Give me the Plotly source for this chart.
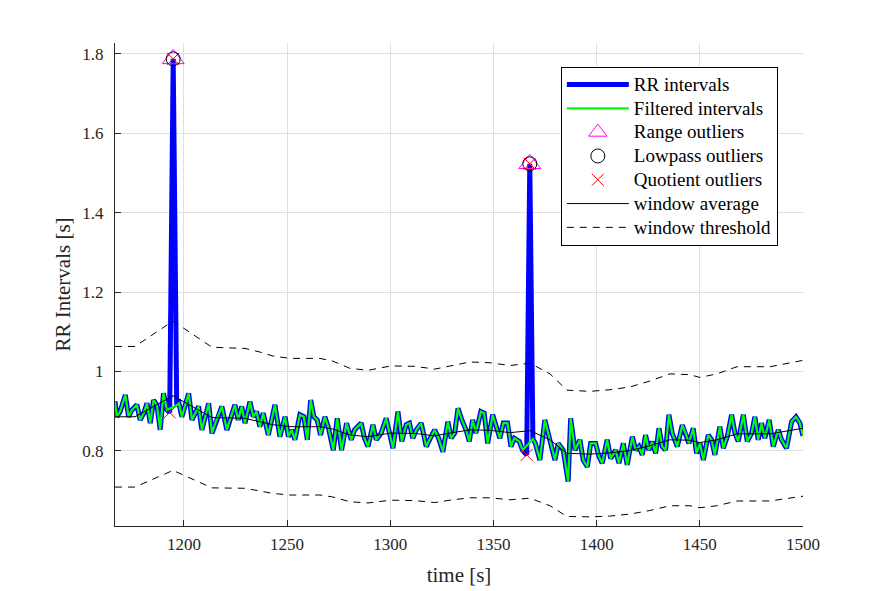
import plotly.graph_objects as go

# ---------------- data ----------------
rr_time = [1166.6, 1167.5, 1169.1, 1171.6, 1173.2, 1174.8, 1177.2, 1178.8, 1180.5, 1182.1,
           1183.7, 1185.3, 1186.9, 1188.5, 1190.1, 1191.8, 1193.1, 1194.8, 1196.5, 1197.6,
           1199.0, 1202.3, 1203.9, 1205.5, 1207.1, 1208.7, 1210.3, 1212.0, 1213.6, 1215.2,
           1218.4, 1220.8, 1222.3, 1224.7, 1226.3, 1228.0, 1229.6, 1232.0, 1233.6, 1235.2,
           1236.8, 1238.4, 1240.9, 1244.1, 1246.5, 1249.0, 1250.6, 1252.2, 1253.8, 1256.2,
           1258.1, 1259.8, 1261.4, 1263.0, 1264.6, 1266.2, 1268.3, 1269.9, 1272.4, 1274.3,
           1276.4, 1278.8, 1281.1, 1282.7, 1285.9, 1287.5, 1289.2, 1291.6, 1293.2, 1295.6,
           1298.0, 1299.7, 1301.3, 1303.7, 1305.6, 1307.7, 1309.3, 1310.9, 1312.6, 1315.0,
           1317.4, 1319.0, 1321.5, 1323.4, 1325.5, 1327.9, 1329.5, 1331.2, 1332.8, 1334.7,
           1336.7, 1338.3, 1339.9, 1341.5, 1343.9, 1345.5, 1347.2, 1349.6, 1351.5, 1353.1,
           1354.8, 1356.8, 1358.5, 1360.1, 1362.5, 1364.1, 1366.1, 1367.6, 1369.1, 1370.3,
           1372.5, 1374.9, 1377.3, 1379.8, 1381.4, 1383.8, 1386.2, 1387.4, 1389.5, 1391.9,
           1393.5, 1395.5, 1397.1, 1399.5, 1401.1, 1402.7, 1405.1, 1406.8, 1409.2, 1410.8,
           1412.9, 1414.8, 1417.3, 1418.9, 1420.5, 1422.1, 1423.7, 1425.3, 1426.9, 1428.6,
           1430.2, 1431.8, 1433.4, 1435.0, 1436.6, 1439.1, 1441.5, 1443.1, 1444.7, 1446.8,
           1448.4, 1450.1, 1451.7, 1454.1, 1455.7, 1457.3, 1459.7, 1461.4, 1463.3, 1465.4,
           1467.0, 1468.6, 1471.1, 1473.0, 1475.1, 1476.7, 1478.3, 1479.9, 1481.5, 1483.6,
           1485.6, 1488.0, 1489.6, 1492.0, 1494.5, 1496.6, 1498.5, 1500.0]
rr_value = [0.925, 0.886, 0.899, 0.941, 0.886, 0.903, 0.916, 0.878, 0.895, 0.920,
            0.870, 0.928, 0.916, 0.853, 0.945, 0.903, 0.897, 1.787, 0.915, 0.920,
            0.886, 0.945, 0.878, 0.895, 0.912, 0.853, 0.886, 0.920, 0.844, 0.870,
            0.912, 0.853, 0.878, 0.916, 0.878, 0.912, 0.870, 0.924, 0.886, 0.899,
            0.861, 0.895, 0.840, 0.916, 0.836, 0.886, 0.836, 0.853, 0.828, 0.891,
            0.886, 0.828, 0.928, 0.886, 0.878, 0.840, 0.886, 0.861, 0.802, 0.882,
            0.802, 0.870, 0.828, 0.853, 0.870, 0.832, 0.811, 0.866, 0.828, 0.845,
            0.882, 0.840, 0.807, 0.899, 0.824, 0.866, 0.870, 0.832, 0.853, 0.870,
            0.811, 0.828, 0.853, 0.832, 0.798, 0.874, 0.832, 0.845, 0.907, 0.878,
            0.853, 0.824, 0.878, 0.845, 0.899, 0.895, 0.819, 0.891, 0.861, 0.832,
            0.870, 0.870, 0.811, 0.832, 0.824, 0.802, 0.790, 1.523, 0.830, 0.819,
            0.777, 0.878, 0.828, 0.777, 0.819, 0.802, 0.723, 0.882, 0.802, 0.828,
            0.777, 0.760, 0.819, 0.819, 0.786, 0.769, 0.828, 0.781, 0.802, 0.769,
            0.819, 0.765, 0.836, 0.802, 0.811, 0.790, 0.840, 0.802, 0.823, 0.794,
            0.857, 0.811, 0.802, 0.891, 0.845, 0.811, 0.865, 0.845, 0.819, 0.857,
            0.794, 0.819, 0.777, 0.840, 0.828, 0.790, 0.861, 0.807, 0.836, 0.891,
            0.845, 0.824, 0.891, 0.824, 0.845, 0.886, 0.828, 0.870, 0.832, 0.878,
            0.811, 0.853, 0.828, 0.807, 0.874, 0.886, 0.870, 0.838]

range_out_time = [1194.8, 1367.6]
range_out_value = [1.787, 1.523]
lowpass_out_time = [1194.8, 1367.6]
lowpass_out_value = [1.787, 1.523]
quot_out_time = [1193.1, 1194.8, 1366.1, 1367.6]
quot_out_value = [0.897, 1.787, 0.790, 1.523]

win_time = [1166.6, 1176.3, 1194.7, 1213.6, 1229.6, 1236.8, 1243.1, 1251.4, 1265.9, 1272.2,
            1280.4, 1289.2, 1300.3, 1311.9, 1321.6, 1328.9, 1338.6, 1348.3, 1358.0, 1367.7,
            1377.4, 1385.6, 1396.7, 1406.4, 1416.1, 1425.8, 1435.5, 1445.2, 1450.0, 1458.3,
            1468.0, 1484.0, 1490.3, 1500.0]
win_avg = [0.886, 0.886, 0.939, 0.884, 0.882, 0.874, 0.866, 0.861, 0.861, 0.855,
           0.840, 0.836, 0.845, 0.844, 0.838, 0.845, 0.853, 0.852, 0.846, 0.851,
           0.828, 0.794, 0.792, 0.795, 0.801, 0.813, 0.828, 0.827, 0.821, 0.828,
           0.843, 0.843, 0.849, 0.857]
win_upper = [1.063, 1.063, 1.127, 1.061, 1.058, 1.049, 1.039, 1.033, 1.033, 1.026,
             1.008, 1.003, 1.014, 1.013, 1.006, 1.014, 1.024, 1.022, 1.015, 1.021,
             0.994, 0.953, 0.950, 0.954, 0.961, 0.976, 0.994, 0.992, 0.985, 0.994,
             1.012, 1.012, 1.019, 1.028]
win_lower = [0.709, 0.709, 0.751, 0.707, 0.706, 0.699, 0.693, 0.689, 0.689, 0.684,
             0.672, 0.669, 0.676, 0.675, 0.670, 0.676, 0.682, 0.682, 0.677, 0.681,
             0.662, 0.635, 0.634, 0.636, 0.641, 0.650, 0.662, 0.662, 0.657, 0.662,
             0.674, 0.674, 0.679, 0.686]

x_ticks = [1200, 1250, 1300, 1350, 1400, 1450, 1500]
y_ticks = [0.8, 1.0, 1.2, 1.4, 1.6, 1.8]
y_tick_labels = ["0.8", "1", "1.2", "1.4", "1.6", "1.8"]

# filtered series: outlier beats removed (linear bridging)
outlier_times = set(range_out_time) | set(lowpass_out_time) | set(quot_out_time)
filt_time = [t for t in rr_time if t not in outlier_times]
filt_value = [v for t, v in zip(rr_time, rr_value) if t not in outlier_times]

FONT = "Liberation Serif"
AX = "#262626"


def lname(s):
    return '<span style="font-size:19px">' + s + '</span>'


fig = go.Figure()
fig.add_trace(go.Scatter(x=rr_time, y=rr_value, mode="lines", name=lname("RR intervals"),
                         line=dict(color="#0000ff", width=5), legendrank=1))
fig.add_trace(go.Scatter(x=filt_time, y=filt_value, mode="lines", name=lname("Filtered intervals"),
                         line=dict(color="#00ff00", width=2.2), legendrank=2))
fig.add_trace(go.Scatter(x=win_time, y=win_avg, mode="lines", name=lname("window average"),
                         line=dict(color="black", width=1), legendrank=6))
fig.add_trace(go.Scatter(x=win_time, y=win_upper, mode="lines", name=lname("window threshold"),
                         line=dict(color="black", width=1, dash="7px,6px"), legendrank=7))
fig.add_trace(go.Scatter(x=win_time, y=win_lower, mode="lines", name="window threshold",
                         line=dict(color="black", width=1, dash="7px,6px"), showlegend=False))
fig.add_trace(go.Scatter(x=range_out_time, y=range_out_value, mode="markers", name=lname("Range outliers"),
                         marker=dict(symbol="triangle-up-open", size=19, color="#ff00ff",
                                     line=dict(width=1, color="#ff00ff")), legendrank=3))
fig.add_trace(go.Scatter(x=lowpass_out_time, y=lowpass_out_value, mode="markers", name=lname("Lowpass outliers"),
                         marker=dict(symbol="circle-open", size=14, color="black",
                                     line=dict(width=1, color="black")), legendrank=4))
fig.add_trace(go.Scatter(x=quot_out_time, y=quot_out_value, mode="markers", name=lname("Quotient outliers"),
                         marker=dict(symbol="x-thin-open", size=12, color="#ff0000",
                                     line=dict(width=1, color="#ff0000")), legendrank=5))

# the page body adds an 8px offset, so the figure is 8px smaller and margins shifted
fig.update_layout(
    width=878, height=583,
    margin=dict(l=107, r=83, t=35, b=65),
    paper_bgcolor="white", plot_bgcolor="white",
    font=dict(family=FONT, size=16, color=AX),
    showlegend=True,
    legend=dict(x=0.648, y=0.951, xanchor="left", yanchor="top",
                bgcolor="white", bordercolor="black", borderwidth=1,
                font=dict(family=FONT, size=16, color="black"),
                itemwidth=62, tracegroupgap=0),
    xaxis=dict(range=[1166.6, 1500], tickvals=x_ticks, ticks="inside", ticklen=6,
               tickcolor=AX, showline=True, linecolor=AX, linewidth=1, automargin=False,
               showgrid=True, gridcolor="rgb(223,223,223)", gridwidth=1, zeroline=False,
               ticklabelstandoff=3,
               tickfont=dict(family=FONT, size=17, color=AX),
               title=dict(text="time [s]", font=dict(family=FONT, size=21, color=AX), standoff=13)),
    yaxis=dict(range=[0.611, 1.827], tickvals=y_ticks, ticktext=y_tick_labels,
               ticks="inside", ticklen=6, automargin=False,
               tickcolor=AX, showline=True, linecolor=AX, linewidth=1,
               showgrid=True, gridcolor="rgb(223,223,223)", gridwidth=1, zeroline=False,
               ticklabelstandoff=7,
               tickfont=dict(family=FONT, size=17, color=AX),
               title=dict(text="RR Intervals [s]", font=dict(family=FONT, size=21, color=AX), standoff=5)),
)

fig.write_html("out.html")
